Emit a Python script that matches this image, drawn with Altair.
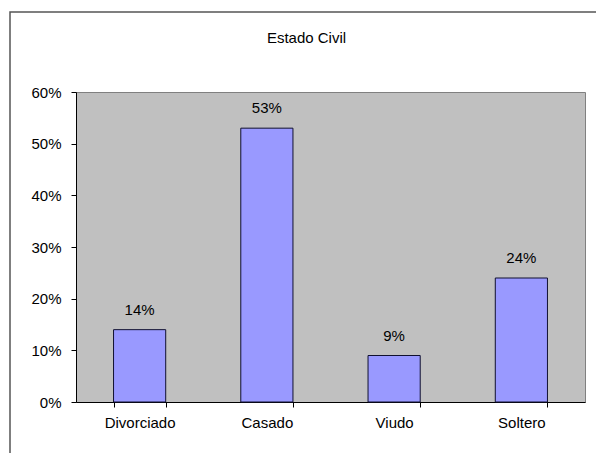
import altair as alt
import pandas as pd

# Marital status shares
categories = ["Divorciado", "Casado", "Viudo", "Soltero"]
shares = [0.14, 0.53, 0.09, 0.24]
y_ticks = [0, 0.1, 0.2, 0.3, 0.4, 0.5, 0.6]

df = pd.DataFrame({"estado": categories, "pct": shares})

FONT = "Liberation Sans"

x_enc = alt.X(
    "estado:N",
    sort=categories,
    title=None,
    scale=alt.Scale(paddingInner=0.59, paddingOuter=0.295),
    axis=alt.Axis(labelAngle=0, tickBand="extent", tickSize=5, labelPadding=8,
                  domainColor="black", tickColor="black"),
)
y_enc = alt.Y(
    "pct:Q",
    title=None,
    scale=alt.Scale(domain=[0, 0.6], nice=False),
    axis=alt.Axis(values=y_ticks, format=".0%", grid=False, tickSize=5,
                  labelPadding=10, domainColor="black", tickColor="black"),
)

bars = alt.Chart(df).mark_bar(
    color="#9999FF", stroke="#101030", strokeWidth=1
).encode(x=x_enc, y=y_enc)

labels = alt.Chart(df).mark_text(
    baseline="alphabetic", dy=-15, font=FONT, fontSize=15, color="black"
).encode(x=alt.X("estado:N", sort=categories), y="pct:Q",
         text=alt.Text("pct:Q", format=".0%"))

# Outer chart frame
frame = alt.Chart(alt.Data(values=[{}])).mark_rect(
    fill="transparent", stroke="#555555", strokeWidth=1.5
).encode(
    x=alt.value(-66), x2=alt.value(526),
    y=alt.value(-80), y2=alt.value(370),
)

chart = alt.layer(frame, bars, labels).properties(
    width=509,
    height=310,
    background="white",
    autosize=alt.AutoSizeParams(type="none"),
    padding={"left": 76, "top": 92, "right": 11, "bottom": 51},
    title=alt.TitleParams(
        "Estado Civil", anchor="middle", dx=-24, offset=0, dy=47,
        baseline="alphabetic", font=FONT, fontSize=15,
        fontWeight="normal", color="black",
    ),
).configure_view(
    fill="#C0C0C0", stroke="#808080", strokeWidth=1
).configure_axis(
    labelFont=FONT, labelFontSize=15, labelColor="black"
)

chart.save("out.html", embed_options={"renderer": "svg", "actions": False})
